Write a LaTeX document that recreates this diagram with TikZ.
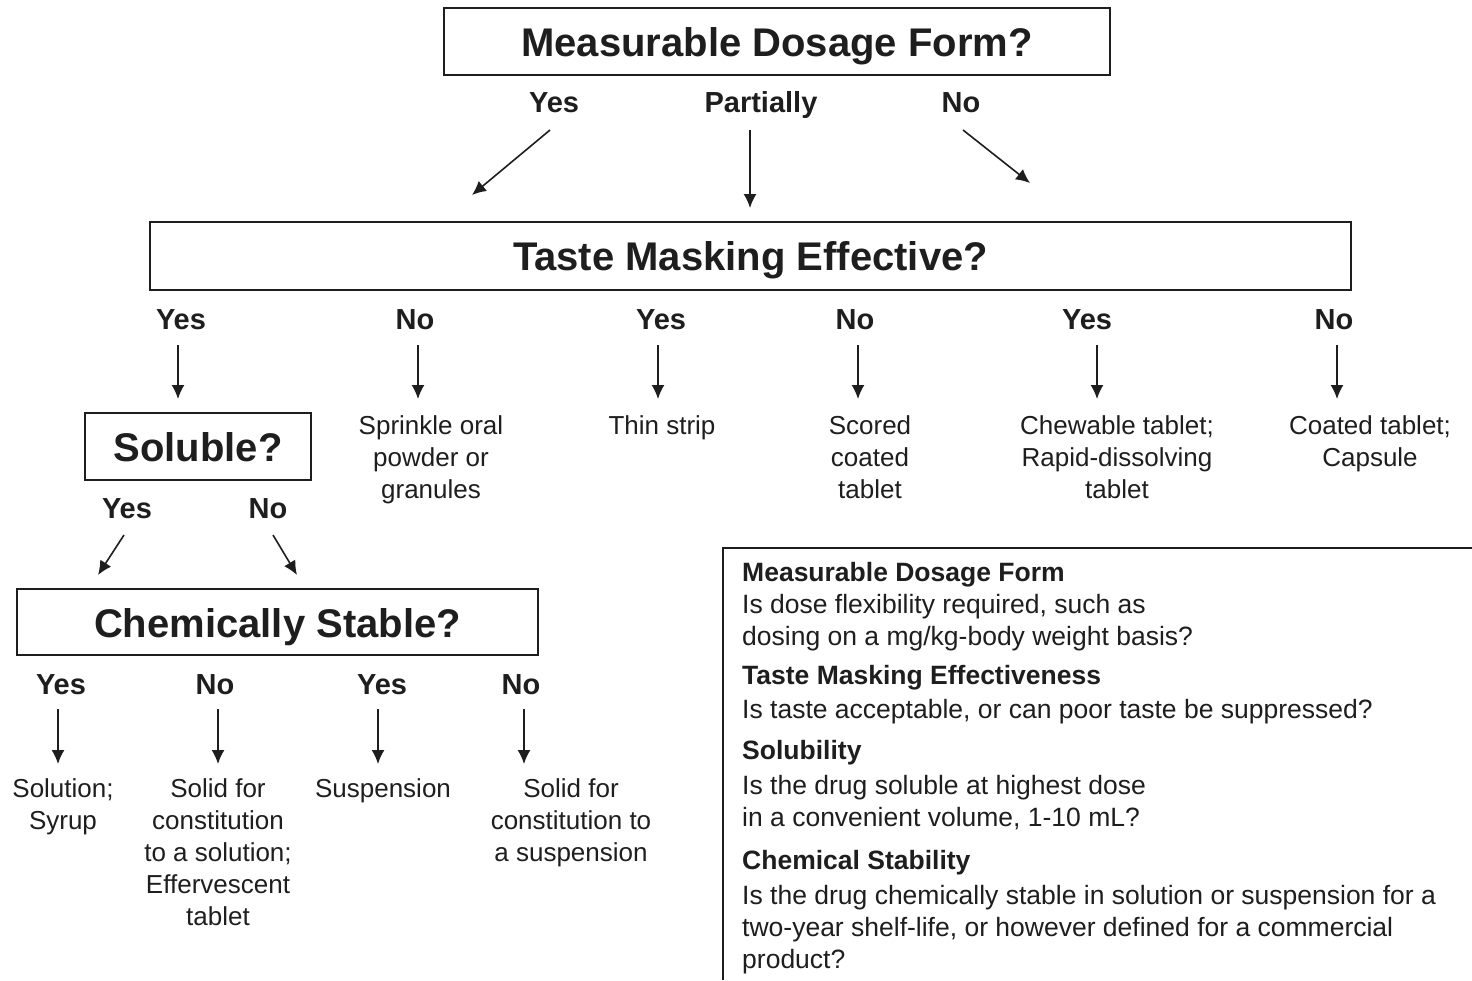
\documentclass[tikz,border=0pt]{standalone}
\usepackage{fontspec}
\setmainfont{Liberation Sans}
\usetikzlibrary{arrows.meta}
\definecolor{ink}{HTML}{1E1E1E}
\tikzset{
  qbox/.style={draw=ink, line width=2pt, inner sep=0pt, text=ink, text height=30pt, text depth=0pt, font=\fontsize{40}{48}\selectfont\bfseries},
  lbl/.style={anchor=base, inner sep=0pt, text=ink, font=\fontsize{29}{34}\selectfont\bfseries},
  leaf/.style={anchor=base, inner sep=0pt, align=center, text=ink, font=\fontsize{26}{32}\selectfont},
  leg/.style={anchor=base west, inner sep=0pt, align=left, text=ink, font=\fontsize{26.5}{32}\selectfont},
  arr/.style={draw=ink, line width=1.6pt, -{Latex[length=14pt,width=13pt]}}
}
\begin{document}
\begin{tikzpicture}[x=1pt,y=-1pt]
\useasboundingbox (0,0) rectangle (1472,980);
\fill[white] (0,0) rectangle (1472,980);

% top question
\node[qbox, minimum width=666pt, minimum height=67pt] (q1) at (777,41.5) {Measurable Dosage Form?};
\node[lbl] (q1yes) at (554,112) {Yes};
\node[lbl] (q1part) at (761,112) {Partially};
\node[lbl] (q1no) at (961,112) {No};
\coordinate (s1) at (550,130); \coordinate (e1) at (472,195);
\coordinate (s2) at (750,130); \coordinate (e2) at (750,208);
\coordinate (s3) at (963,130); \coordinate (e3) at (1030,183);
\draw[arr] (s1) -- (e1);
\draw[arr] (s2) -- (e2);
\draw[arr] (s3) -- (e3);

% taste masking
\node[qbox, text height=28pt, minimum width=1201pt, minimum height=68pt] (q2) at (750.5,256) {Taste Masking Effective?};
\foreach \n/\x/\t in {a/181/Yes, b/415/No, c/661/Yes, d/855/No, e/1087/Yes, f/1334/No}{
  \node[lbl] (q2\n) at (\x,329) {\t};
}
\foreach \n/\x in {a/178, b/418, c/658, d/858, e/1097, f/1337}{
  \coordinate (t\n s) at (\x,345);
  \coordinate (t\n e) at (\x,399);
  \draw[arr] (t\n s) -- (t\n e);
}
\node[leaf] (sprinkle) at (431,498) {Sprinkle oral\\powder or\\granules};
\node[leaf] (thin) at (662,434) {Thin strip};
\node[leaf] (scored) at (870,498) {Scored\\coated\\tablet};
\node[leaf] (chew) at (1117,498) {Chewable tablet;\\Rapid-dissolving\\tablet};
\node[leaf] (coated) at (1370,466) {Coated tablet;\\Capsule};

% soluble
\node[qbox, minimum width=226pt, minimum height=67pt] (q3) at (198,446.5) {Soluble?};
\node[lbl] (q3yes) at (127,518) {Yes};
\node[lbl] (q3no) at (268,518) {No};
\coordinate (u1s) at (124,535); \coordinate (u1e) at (98,575);
\coordinate (u2s) at (273,535); \coordinate (u2e) at (297,575);
\draw[arr] (u1s) -- (u1e);
\draw[arr] (u2s) -- (u2e);

% chemically stable
\node[qbox, minimum width=521pt, minimum height=66pt] (q4) at (277.5,622) {Chemically Stable?};
\foreach \n/\x/\t in {a/61/Yes, b/215/No, c/382/Yes, d/521/No}{
  \node[lbl] (q4\n) at (\x,694) {\t};
}
\foreach \n/\x in {a/58, b/218, c/378, d/524}{
  \coordinate (c\n s) at (\x,709);
  \coordinate (c\n e) at (\x,764);
  \draw[arr] (c\n s) -- (c\n e);
}
\node[leaf] (solution) at (63,829) {Solution;\\Syrup};
\node[leaf] (solidsol) at (218,925) {Solid for\\constitution\\to a solution;\\Effervescent\\tablet};
\node[leaf] (susp) at (383,797) {Suspension};
\node[leaf] (solidsusp) at (571,861) {Solid for\\constitution to\\a suspension};

% legend
\coordinate (lgtr) at (1472,548);
\coordinate (lgbl) at (723,980);
\draw[ink, line width=1.6pt] (lgtr) -| (lgbl);
\node[leg] (lg1) at (742,645) {\textbf{Measurable Dosage Form}\\Is dose flexibility required, such as\\dosing on a mg/kg-body weight basis?};
\node[leg] (lg2) at (742,718) {\textbf{Taste Masking Effectiveness}\\[2pt]Is taste acceptable, or can poor taste be suppressed?};
\node[leg] (lg3) at (742,826) {\textbf{Solubility}\\[3pt]Is the drug soluble at highest dose\\in a convenient volume, 1-10 mL?};
\node[leg] (lg4) at (742,968) {\textbf{Chemical Stability}\\[3pt]Is the drug chemically stable in solution or suspension for a\\two-year shelf-life, or however defined for a commercial\\product?};
\end{tikzpicture}
\end{document}
